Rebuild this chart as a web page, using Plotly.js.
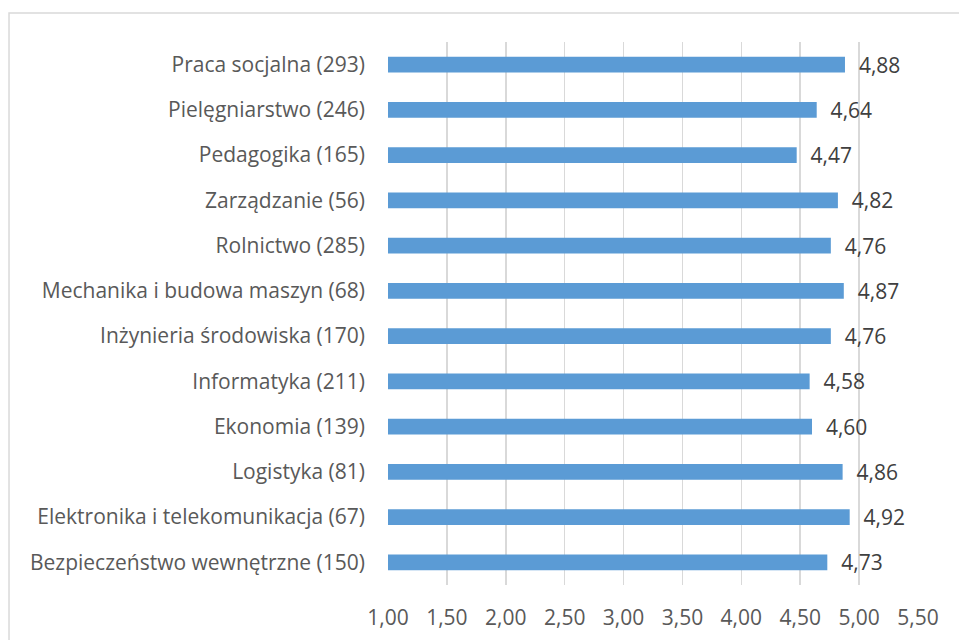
<!DOCTYPE html>
<html>
<head>
<meta charset="utf-8">
<script src="https://cdn.plot.ly/plotly-3.0.1.min.js"></script>
<style>html,body{margin:0;padding:0;background:#fff;}#chart{width:959px;height:640px;}</style>
</head>
<body>
<div id="chart"></div>
<script>
const categories = [
  "Praca socjalna (293)",
  "Pielęgniarstwo (246)",
  "Pedagogika (165)",
  "Zarządzanie (56)",
  "Rolnictwo (285)",
  "Mechanika i budowa maszyn (68)",
  "Inżynieria środowiska (170)",
  "Informatyka (211)",
  "Ekonomia (139)",
  "Logistyka (81)",
  "Elektronika i telekomunikacja (67)",
  "Bezpieczeństwo wewnętrzne (150)"
];
const values = [4.88, 4.64, 4.47, 4.82, 4.76, 4.87, 4.76, 4.58, 4.60, 4.86, 4.92, 4.73];
const tickVals = [1.0, 1.5, 2.0, 2.5, 3.0, 3.5, 4.0, 4.5, 5.0, 5.5];
const tickText = ["1,00","1,50","2,00","2,50","3,00","3,50","4,00","4,50","5,00","5,50"];

const labels = values.map(v => "\u00a0\u00a0" + v.toFixed(2).replace(".", ","));

const FONT = "'Open Sans', Lato, sans-serif";

const trace = {
  type: "bar",
  orientation: "h",
  y: categories,
  x: values,
  text: labels,
  textposition: "outside",
  constraintext: "none",
  cliponaxis: false,
  textfont: {family: FONT, size: 21, color: "#404040"},
  marker: {color: "#5B9BD5"},
  hoverinfo: "none"
};

const L = 387.7, R = 41, T = 42, B = 54.5;
const W = 959 - L - R, H = 640 - T - B;

const layout = {
  width: 959, height: 640,
  margin: {l: L, r: R, t: T, b: B, pad: 0},
  paper_bgcolor: "#ffffff",
  plot_bgcolor: "#ffffff",
  bargap: 0.65,
  showlegend: false,
  uniformtext: {mode: false},
  font: {family: FONT, size: 21, color: "#595959"},
  xaxis: {
    range: [1, 5.5],
    tickvals: tickVals,
    ticktext: tickText,
    showgrid: true,
    gridcolor: "#d9d9d9",
    gridwidth: 1.5,
    zeroline: false,
    showline: false,
    ticks: "",
    ticklabelstandoff: 18,
    tickfont: {family: FONT, size: 21, color: "#595959"},
    fixedrange: true
  },
  yaxis: {
    autorange: "reversed",
    type: "category",
    showgrid: false,
    zeroline: false,
    showline: false,
    ticks: "",
    ticklabelstandoff: 22,
    tickfont: {family: FONT, size: 21, color: "#595959"},
    fixedrange: true
  },
  shapes: [{
    type: "rect", xref: "paper", yref: "paper",
    x0: (8.5 - L) / W,
    x1: (975 - L) / W,
    y0: -0.3, y1: (640 - 13 - B) / H,
    line: {color: "#d9d9d9", width: 1.5},
    fillcolor: "rgba(0,0,0,0)",
    layer: "below"
  }]
};

Plotly.newPlot("chart", [trace], layout, {staticPlot: true, displayModeBar: false});
</script>
</body>
</html>
